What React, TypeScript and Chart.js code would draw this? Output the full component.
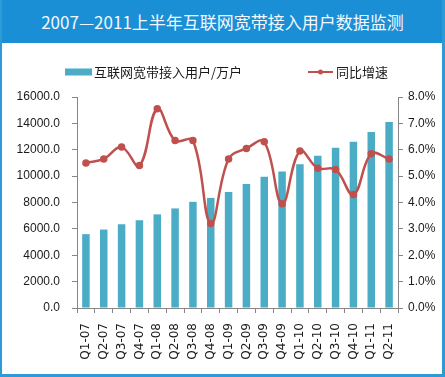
import React, { useEffect, useRef } from "react";
import { Chart, registerables } from "chart.js";

Chart.register(...registerables);

const TITLE = "2007—2011上半年互联网宽带接入用户数据监测";
const categories = [
  "Q1-07", "Q2-07", "Q3-07", "Q4-07",
  "Q1-08", "Q2-08", "Q3-08", "Q4-08",
  "Q1-09", "Q2-09", "Q3-09", "Q4-09",
  "Q1-10", "Q2-10", "Q3-10", "Q4-10",
  "Q1-11", "Q2-11",
];
const users = [
  5600, 5950, 6350, 6650,
  7100, 7550, 8050, 8350,
  8800, 9400, 9950, 10350,
  10900, 11550, 12150, 12600,
  13350, 14100,
];
const growth = [
  5.5, 5.65, 6.1, 5.4,
  7.55, 6.35, 6.35, 3.2,
  5.65, 6.05, 6.3, 3.95,
  5.95, 5.3, 5.25, 4.3,
  5.85, 5.65,
];
const barLabel = "互联网宽带接入用户/万户";
const lineLabel = "同比增速";

const BAR_COLOR = "#4bacc6";
const LINE_COLOR = "#c0504d";
const AXIS_COLOR = "#868686";
const TEXT_COLOR = "#1a1a1a";

const legendPlugin = {
  id: "customLegend",
  afterDraw(chart: any) {
    const ctx = chart.ctx;
    ctx.save();
    ctx.font = "13px 'Noto Sans CJK SC', sans-serif";
    ctx.fillStyle = TEXT_COLOR;
    ctx.textBaseline = "middle";
    const cy = 29;
    // bar legend
    ctx.fillStyle = BAR_COLOR;
    ctx.fillRect(63, cy - 3.5, 27, 7);
    ctx.fillStyle = TEXT_COLOR;
    ctx.fillText(chart.data.datasets[1].label, 92, cy);
    // line legend
    ctx.strokeStyle = LINE_COLOR;
    ctx.lineWidth = 2;
    ctx.beginPath();
    ctx.moveTo(306, cy);
    ctx.lineTo(331, cy);
    ctx.stroke();
    ctx.fillStyle = LINE_COLOR;
    ctx.beginPath();
    ctx.arc(318.5, cy, 2.5, 0, Math.PI * 2);
    ctx.fill();
    ctx.fillStyle = TEXT_COLOR;
    ctx.fillText(chart.data.datasets[0].label, 334, cy);
    ctx.restore();
  },
};

export default function App() {
  const ref = useRef<HTMLCanvasElement | null>(null);
  useEffect(() => {
    if (!ref.current) return;
    const chart = new Chart(ref.current, {
      type: "bar",
      data: {
        labels: categories,
        datasets: [
          {
            type: "line",
            label: lineLabel,
            data: growth,
            yAxisID: "y1",
            borderColor: LINE_COLOR,
            backgroundColor: LINE_COLOR,
            borderWidth: 2.5,
            pointRadius: 2.5,
            pointBackgroundColor: LINE_COLOR,
            pointBorderColor: LINE_COLOR,
            tension: 0.4,
            order: 0,
          } as any,
          {
            type: "bar",
            label: barLabel,
            data: users,
            yAxisID: "y",
            backgroundColor: BAR_COLOR,
            barPercentage: 0.42,
            categoryPercentage: 1,
            order: 1,
          },
        ],
      },
      options: {
        responsive: false,
        animation: false,
        devicePixelRatio: 1,
        layout: { padding: { top: 54, left: 0, right: 0, bottom: 0 } },
        plugins: {
          legend: { display: false },
          title: { display: false },
          tooltip: { enabled: false },
        },
        scales: {
          x: {
            offset: true,
            grid: {
              display: true,
              drawOnChartArea: false,
              drawTicks: true,
              tickLength: 5,
              color: AXIS_COLOR,
              offset: true,
            },
            border: { color: AXIS_COLOR },
            ticks: {
              maxRotation: 90,
              minRotation: 90,
              autoSkip: false,
              padding: 10,
              color: TEXT_COLOR,
              font: { family: "'DejaVu Sans', sans-serif", size: 12 },
            },
            afterFit(scale: any) {
              scale.height = 66;
            },
          },
          y: {
            position: "left",
            min: 0,
            max: 16000,
            grid: {
              drawOnChartArea: false,
              tickLength: 5,
              color: AXIS_COLOR,
            },
            border: { color: AXIS_COLOR },
            ticks: {
              stepSize: 2000,
              padding: 12,
              color: TEXT_COLOR,
              font: { family: "'Liberation Sans', sans-serif", size: 12 },
              callback: (v: any) => Number(v).toFixed(1),
            },
            afterFit(scale: any) {
              scale.width = 75;
            },
          },
          y1: {
            position: "right",
            min: 0,
            max: 8,
            grid: {
              drawOnChartArea: false,
              tickLength: 5,
              color: AXIS_COLOR,
            },
            border: { color: AXIS_COLOR },
            ticks: {
              stepSize: 1,
              padding: 5,
              color: TEXT_COLOR,
              font: { family: "'Liberation Sans', sans-serif", size: 12 },
              callback: (v: any) => Number(v).toFixed(1) + "%",
            },
            afterFit(scale: any) {
              scale.width = 44;
            },
          },
        },
      },
      plugins: [legendPlugin],
    });
    return () => chart.destroy();
  }, []);

  return (
    <div
      style={{
        position: "fixed",
        left: 0,
        top: 0,
        width: 445,
        height: 377,
        boxSizing: "border-box",
        background: "#ffffff",
        borderLeft: "2px solid #2c9bd8",
        borderRight: "3px solid #2c9bd8",
        borderBottom: "3px solid #2c9bd8",
        overflow: "hidden",
      }}
    >
      <div
        style={{
          height: 43,
          marginLeft: -2,
          marginRight: -3,
          background: "#1a8fd5",
          color: "#f2f8ff",
          fontFamily: "'Noto Sans CJK SC', sans-serif",
          fontSize: 17,
          lineHeight: "43px",
          textAlign: "center",
          whiteSpace: "nowrap",
        }}
      >
        {TITLE}
      </div>
      <canvas ref={ref} width={440} height={331} style={{ display: "block" }} />
    </div>
  );
}
